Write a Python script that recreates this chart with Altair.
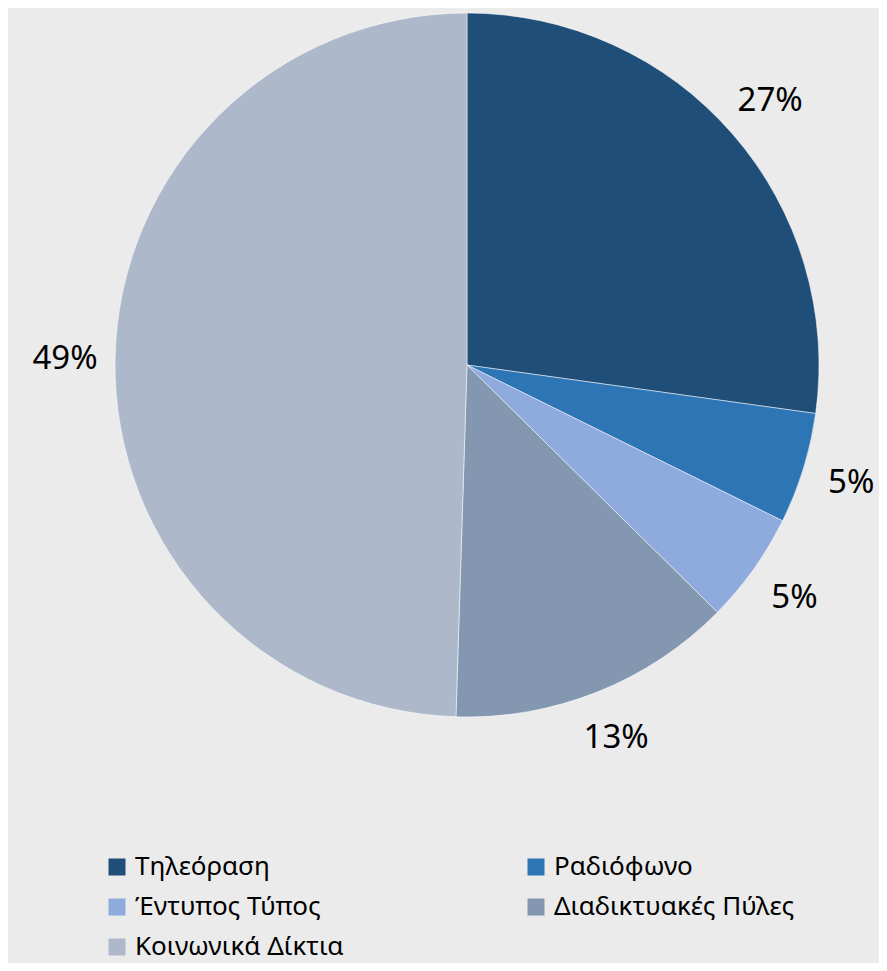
import altair as alt
import pandas as pd

categories = ["Τηλεόραση", "Ραδιόφωνο", "Έντυπος Τύπος", "Διαδικτυακές Πύλες", "Κοινωνικά Δίκτια"]
values = [27.2, 5.1, 5.1, 13.1, 49.5]
labels = ["27%", "5%", "5%", "13%", "49%"]
colors = ["#1f4e79", "#2e75b6", "#8faadc", "#8497b0", "#adb9ca"]

df = pd.DataFrame({
    "cat": categories,
    "val": values,
    "label": labels,
    "idx": list(range(len(categories))),
})

FONT = "Noto Sans"
CX, CY = 459, 357

base = alt.Chart(df).encode(
    theta=alt.Theta("val:Q", stack=True),
    order=alt.Order("idx:Q"),
)

pie = base.mark_arc(outerRadius=352, stroke="white", strokeWidth=0.5).encode(
    x=alt.value(CX),
    y=alt.value(CY),
    color=alt.Color(
        "cat:N",
        scale=alt.Scale(domain=categories, range=colors),
        sort=categories,
        legend=alt.Legend(
            title=None,
            orient="none",
            direction="horizontal",
            legendX=96,
            legendY=846,
            columns=2,
            symbolType="square",
            symbolSize=289,
            symbolStrokeWidth=0,
            labelFont=FONT,
            labelFontSize=26,
            labelColor="#000000",
            labelOffset=5,
            labelLimit=400,
            rowPadding=14,
            columnPadding=179,
        ),
    ),
)

text = base.mark_text(radius=402, font=FONT, fontSize=33, color="#000000").encode(
    x=alt.value(CX),
    y=alt.value(CY),
    text="label:N",
)

chart = (
    (pie + text)
    .properties(
        width=871,
        height=955,
        autosize=alt.AutoSizeParams(type="none"),
        padding=0,
        background="#ebebeb",
    )
    .configure_view(stroke=None)
)

chart.save("out.html", embed_options={"renderer": "svg", "actions": False})
